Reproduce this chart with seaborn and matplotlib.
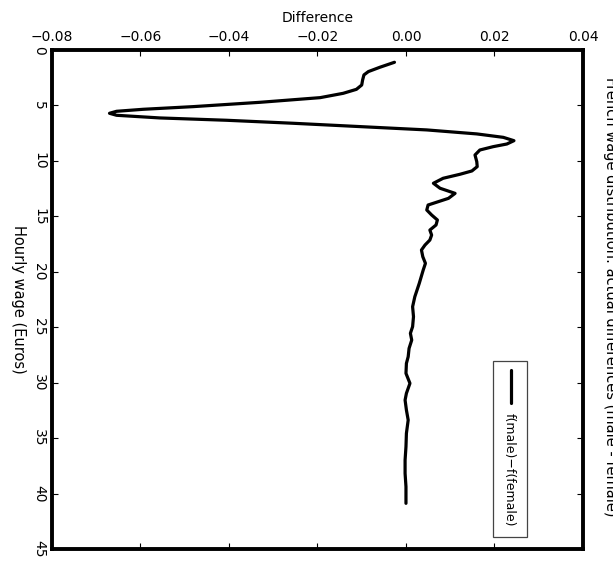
import numpy as np
import pandas as pd
import matplotlib
matplotlib.use('Agg')
import matplotlib.pyplot as plt
import seaborn as sns

# hourly wage (Euros) and density difference f(male)-f(female)
wage = [1.11, 1.56, 1.95, 2.25, 2.71, 3.16, 3.55, 3.91, 4.30, 4.72, 5.11, 5.35,
        5.53, 5.71, 5.89, 6.13, 6.34, 6.61, 6.91, 7.21, 7.57, 7.88, 8.18, 8.48,
        8.72, 9.02, 9.47, 10.07, 10.52, 10.91, 11.21, 11.57, 12.02, 12.47, 12.93,
        13.38, 13.98, 14.43, 14.88, 15.33, 15.78, 16.24, 16.69, 17.14, 17.59,
        18.04, 18.64, 19.24, 19.84, 21.05, 22.25, 23.15, 24.05, 24.95, 25.55,
        26.16, 26.91, 27.66, 28.26, 29.16, 30.06, 30.96, 31.57, 32.47, 33.37,
        34.57, 35.77, 36.98, 38.18, 39.38, 40.88]
diff = [-0.0026, -0.0059, -0.0085, -0.0095, -0.0098, -0.0100, -0.0112, -0.0142,
        -0.0194, -0.0330, -0.0481, -0.0594, -0.0654, -0.0670, -0.0654, -0.0556,
        -0.0405, -0.0255, -0.0104, 0.0047, 0.0160, 0.0220, 0.0244, 0.0228,
        0.0197, 0.0167, 0.0156, 0.0160, 0.0161, 0.0149, 0.0122, 0.0084, 0.0062,
        0.0077, 0.0111, 0.0096, 0.0050, 0.0047, 0.0058, 0.0071, 0.0068, 0.0054,
        0.0058, 0.0054, 0.0043, 0.0035, 0.0038, 0.0044, 0.0039, 0.0030, 0.0020,
        0.0015, 0.0017, 0.0015, 0.0010, 0.0013, 0.0007, 0.0005, 0.0001, 0.0000,
        0.0009, 0.0001, -0.0002, 0.0001, 0.0005, 0.0001, 0.0000, -0.0002,
        -0.0002, 0.0000, 0.0000]

xticks = [-0.08, -0.06, -0.04, -0.02, 0.00, 0.02, 0.04]
yticks = [0, 5, 10, 15, 20, 25, 30, 35, 40, 45]
title = 'French wage distribution: actual differences (male - female)'
legend_label = 'f(male)\u2212f(female)'

sns.set_style('white')
plt.rcParams['font.family'] = ['DejaVu Sans']
plt.rcParams['text.color'] = 'black'
plt.rcParams['axes.labelcolor'] = 'black'
plt.rcParams['xtick.color'] = 'black'
plt.rcParams['ytick.color'] = 'black'

df = pd.DataFrame({'wage': wage, 'diff': diff})

fig = plt.figure(figsize=(6.13, 5.71), dpi=100)
ax = fig.add_axes([0.0848, 0.0385, 0.8662, 0.874])
sns.lineplot(data=df, x='diff', y='wage', sort=False, estimator=None,
             color='black', lw=2.3, ax=ax)

ax.set_xlim(-0.08, 0.04)
ax.set_ylim(45, 0)
ax.set_xticks(xticks)
ax.set_xticklabels([('%.2f' % t).replace('-', '\u2212') if t != 0 else '0.00'
                    for t in xticks], fontsize=10)
ax.set_yticks(yticks)
ax.set_yticklabels([str(t) for t in yticks], rotation=270, fontsize=10, va='center')
ax.xaxis.set_label_position('top')
ax.tick_params(axis='x', top=True, bottom=True, labeltop=True, labelbottom=False,
               direction='in', length=4, width=0.8, pad=4)
ax.tick_params(axis='y', left=True, right=True, direction='in', length=4, width=0.8, pad=4)
ax.set_xlabel('Difference', fontsize=10, labelpad=6)
ax.set_ylabel('Hourly wage (Euros)', fontsize=10.5, rotation=270, labelpad=10, va='center')
for s in ax.spines.values():
    s.set_linewidth(2.8)
    s.set_color('black')

# rotated legend, drawn by hand
ax.add_patch(plt.Rectangle((0.830, 0.024), 0.064, 0.353, transform=ax.transAxes,
                           fill=False, edgecolor='#444444', lw=0.9))
ax.plot([0.864, 0.864], [0.293, 0.359], transform=ax.transAxes, color='black', lw=2.3)
ax.text(0.862, 0.158, legend_label, transform=ax.transAxes, rotation=270,
        ha='center', va='center', fontsize=9)

fig.text(0.996, 0.48, title, rotation=270, ha='center', va='center', fontsize=10.5)

fig.savefig('out.png', dpi=100)
